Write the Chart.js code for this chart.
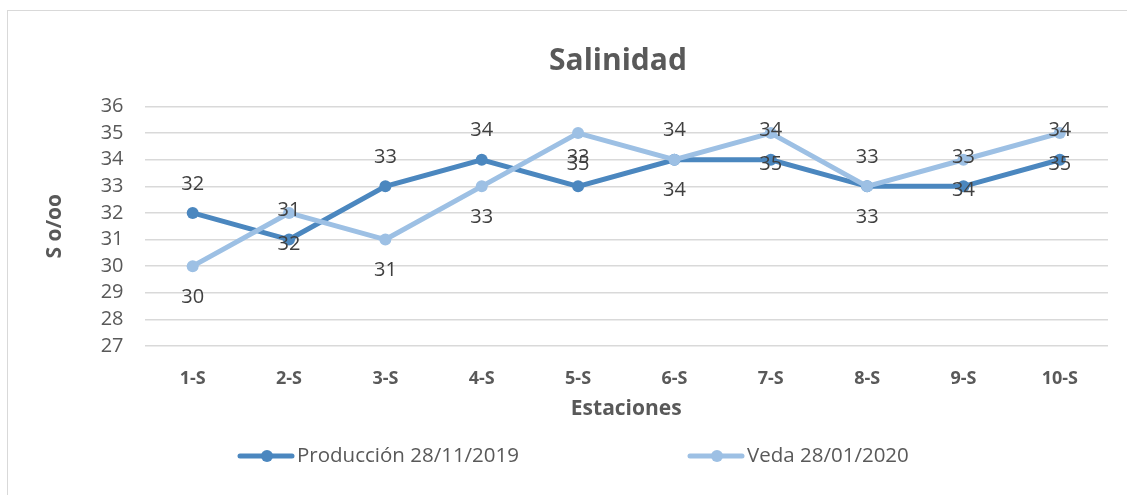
<!DOCTYPE html>
<html>
<head>
<meta charset="utf-8">
<script src="https://cdn.jsdelivr.net/npm/chart.js@4"></script>
<style>
  html, body { margin: 0; padding: 0; background: #fff; overflow: hidden; }
  #frame { position: absolute; left: 7px; top: 10px; width: 1200px; height: 600px; border: 1px solid #d9d9d9; }
  #wrap { position: absolute; left: 0; top: 0; width: 1127px; height: 495px; }
</style>
</head>
<body>
<div id="frame"></div>
<div id="wrap"><canvas id="chart1" width="1127" height="495"></canvas></div>
<script>
// data
const estaciones = ['1-S', '2-S', '3-S', '4-S', '5-S', '6-S', '7-S', '8-S', '9-S', '10-S'];
const produccion = [32, 31, 33, 34, 33, 34, 34, 33, 33, 34];
const veda = [30, 32, 31, 33, 35, 34, 35, 33, 34, 35];
const serieNombres = ['Producción 28/11/2019', 'Veda 28/01/2020'];
const yTicks = [27, 28, 29, 30, 31, 32, 33, 34, 35, 36];
const titulo = 'Salinidad';

const darkBlue = '#4b87bf';
const lightBlue = '#9dc0e4';
const FONT = "'Open Sans', 'Noto Sans', sans-serif";

// title sits a bit right of centre in the original, so draw it by hand
const chartTitle = {
    id: 'chartTitle',
    afterDraw(chart) {
        const ctx = chart.ctx;
        ctx.save();
        ctx.font = 'bold 30px ' + FONT;
        ctx.fillStyle = '#595959';
        ctx.textAlign = 'center';
        ctx.textBaseline = 'middle';
        ctx.fillText(titulo, 618, 61);
        ctx.restore();
    }
};

// value labels: Producción above the point, Veda below
const pointLabels = {
    id: 'pointLabels',
    afterDatasetsDraw(chart) {
        const ctx = chart.ctx;
        ctx.save();
        ctx.font = '20px ' + FONT;
        ctx.fillStyle = '#404040';
        ctx.textAlign = 'center';
        ctx.textBaseline = 'middle';
        chart.data.datasets.forEach(function(ds, i) {
            const meta = chart.getDatasetMeta(i);
            const shift = ds.labelPos === 'above' ? -29 : 31;
            meta.data.forEach(function(pt, j) {
                ctx.fillText(String(ds.data[j]), pt.x, pt.y + shift);
            });
        });
        ctx.restore();
    }
};

// excel style legend: line with a dot, then the name
const lineLegend = {
    id: 'lineLegend',
    afterDraw(chart) {
        const ctx = chart.ctx;
        const y = 456;
        const starts = [238, 688];
        ctx.save();
        chart.data.datasets.forEach(function(ds, i) {
            const x = starts[i];
            ctx.strokeStyle = ds.borderColor;
            ctx.lineWidth = 5;
            ctx.lineCap = 'round';
            ctx.beginPath();
            ctx.moveTo(x + 2, y);
            ctx.lineTo(x + 54, y);
            ctx.stroke();
            ctx.fillStyle = ds.borderColor;
            ctx.beginPath();
            ctx.arc(x + 29, y, 6, 0, Math.PI * 2);
            ctx.fill();
            ctx.fillStyle = '#595959';
            ctx.font = '20.5px ' + FONT;
            ctx.textAlign = 'left';
            ctx.textBaseline = 'middle';
            ctx.fillText(ds.label, x + 59, y);
        });
        ctx.restore();
    }
};

new Chart('chart1', {
    type: 'line',
    data: {
        labels: estaciones,
        datasets: [{
            label: serieNombres[0],
            data: produccion,
            borderColor: darkBlue,
            backgroundColor: darkBlue,
            borderWidth: 5,
            pointRadius: 6,
            pointBorderWidth: 0,
            pointBackgroundColor: darkBlue,
            labelPos: 'above',
            order: 1
        }, {
            label: serieNombres[1],
            data: veda,
            borderColor: lightBlue,
            backgroundColor: lightBlue,
            borderWidth: 5,
            pointRadius: 6,
            pointBorderWidth: 0,
            pointBackgroundColor: lightBlue,
            labelPos: 'below',
            order: 0
        }]
    },
    options: {
        responsive: false,
        animation: false,
        layout: {
            padding: { top: 106.5, left: 36, right: 19, bottom: 71 }
        },
        plugins: {
            legend: { display: false },
            tooltip: { enabled: false },
            title: { display: false }
        },
        scales: {
            x: {
                offset: true,
                grid: { display: false },
                border: { display: false },
                ticks: {
                    color: '#595959',
                    padding: 14,
                    font: { family: FONT, size: 18, weight: 'bold' }
                },
                title: {
                    display: true,
                    text: 'Estaciones',
                    color: '#595959',
                    font: { family: FONT, size: 21, weight: 'bold' },
                    padding: { top: 0, bottom: 2 }
                },
                afterFit: function(scale) { scale.height = 78; }
            },
            y: {
                min: yTicks[0],
                max: yTicks[yTicks.length - 1],
                afterBuildTicks: function(scale) {
                    scale.ticks = yTicks.map(function(v) { return { value: v }; });
                },
                grid: { color: '#d9d9d9', lineWidth: 1.5, drawTicks: false },
                border: { display: false },
                ticks: {
                    autoSkip: false,
                    color: '#595959',
                    padding: 21,
                    font: { family: FONT, size: 20 }
                },
                title: {
                    display: true,
                    text: 'S o/oo',
                    color: '#595959',
                    font: { family: FONT, size: 21, weight: 'bold' },
                    padding: { top: 6, bottom: 0 }
                },
                afterFit: function(scale) { scale.width = 108.5; }
            }
        }
    },
    plugins: [pointLabels, lineLegend, chartTitle]
});
</script>
</body>
</html>
